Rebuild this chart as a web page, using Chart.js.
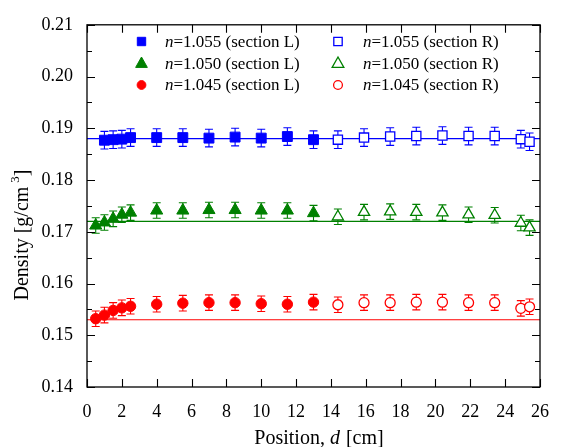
<!DOCTYPE html>
<html>
<head>
<meta charset="utf-8">
<script src="https://cdn.jsdelivr.net/npm/chart.js@4/dist/chart.umd.min.js"></script>
<style>
html,body{margin:0;padding:0;background:#fff;}
#wrap{width:563px;height:447px;position:relative;}
</style>
</head>
<body>
<div id="wrap"><canvas id="c" width="563" height="447"></canvas></div>
<script>
// ---- data ----
const xBlueL = [1.0, 1.5, 2.0, 2.5, 4, 5.5, 7, 8.5, 10, 11.5, 13];
const xL = [0.5, 1.0, 1.5, 2.0, 2.5, 4, 5.5, 7, 8.5, 10, 11.5, 13];
const xR = [14.4, 15.9, 17.4, 18.9, 20.4, 21.9, 23.4, 24.9, 25.4];

const blueL = [0.1877, 0.1878, 0.1879, 0.1882, 0.1882, 0.1882, 0.1881, 0.1883, 0.1881, 0.1884, 0.1878];
const blueR = [0.1878, 0.1882, 0.1884, 0.1885, 0.1886, 0.1885, 0.1885, 0.1879, 0.1874];
const blueErrL = [0.0017, 0.0017, 0.0017, 0.0017, 0.0017, 0.0017, 0.0017, 0.0017, 0.0017, 0.0017, 0.0017];
const blueErrR = [0.0017, 0.0017, 0.0017, 0.0017, 0.0017, 0.0017, 0.0017, 0.0017, 0.0017];

const greenL = [0.1712, 0.1718, 0.1725, 0.1733, 0.1737, 0.1741, 0.1741, 0.1742, 0.1742, 0.1741, 0.1741, 0.1736];
const greenR = [0.1729, 0.1738, 0.1739, 0.1738, 0.1737, 0.1733, 0.1732, 0.1717, 0.1708];
const greenErrL = [0.0015, 0.0015, 0.0015, 0.0015, 0.0015, 0.0015, 0.0015, 0.0015, 0.0015, 0.0015, 0.0015, 0.0015];
const greenErrR = [0.0015, 0.0015, 0.0015, 0.0015, 0.0015, 0.0015, 0.0015, 0.0015, 0.0015];

const redL = [0.1532, 0.1539, 0.1548, 0.1553, 0.1556, 0.1560, 0.1562, 0.1563, 0.1563, 0.1561, 0.1560, 0.1564];
const redR = [0.1559, 0.1563, 0.1563, 0.1564, 0.1564, 0.1563, 0.1563, 0.1552, 0.1555];
const redErrL = [0.0015, 0.0015, 0.0015, 0.0015, 0.0015, 0.0015, 0.0015, 0.0015, 0.0015, 0.0015, 0.0015, 0.0015];
const redErrR = [0.0015, 0.0015, 0.0015, 0.0015, 0.0015, 0.0015, 0.0015, 0.0015, 0.0015];

const fitLevels = [0.188, 0.172, 0.153];
const fitRange = [0, 26];

const seriesLabels = ['1.055 (section L)', '1.055 (section R)', '1.050 (section L)', '1.050 (section R)', '1.045 (section L)', '1.045 (section R)'];
const xTitle = ['Position, ', 'd', ' [cm]'];
const yTitle = ['Density [g/cm', '3', ']'];

const xMin = 0, xMax = 26, xStep = 2;
const yMin = 0.14, yMax = 0.21, yStep = 0.01, yMinorStep = 0.005;

// ---- build ----
const BLUE = '#0000ff', GREEN = '#008000', RED = '#ff0000';
const SERIF = 'Liberation Serif';
Chart.defaults.font.family = SERIF;
Chart.defaults.font.size = 17;
Chart.defaults.color = '#000';

function pts(xs, ys, es) { return xs.map((x, i) => ({x: x, y: ys[i], e: es[i]})); }

function markerDs(label, xs, ys, es, color, style, r, filled) {
  return {
    label: label, data: pts(xs, ys, es), showLine: false,
    pointStyle: style, pointRadius: r, pointHoverRadius: r,
    pointBackgroundColor: filled ? color : '#ffffff',
    pointBorderColor: color, pointBorderWidth: filled ? 1 : 1.3,
    borderColor: color, backgroundColor: filled ? color : '#ffffff',
    errorBars: true, order: 1
  };
}
function fitDs(level, color) {
  return {
    data: [{x: fitRange[0], y: level}, {x: fitRange[1], y: level}],
    showLine: true, borderColor: color, borderWidth: 1.2, pointRadius: 0,
    fill: false, order: 2
  };
}

const datasets = [
  fitDs(fitLevels[0], BLUE), fitDs(fitLevels[1], GREEN), fitDs(fitLevels[2], RED),
  markerDs(seriesLabels[0], xBlueL, blueL, blueErrL, BLUE, 'rect', 7, true),
  markerDs(seriesLabels[1], xR, blueR, blueErrR, BLUE, 'rect', 6.5, false),
  markerDs(seriesLabels[2], xL, greenL, greenErrL, GREEN, 'triangle', 7, true),
  markerDs(seriesLabels[3], xR, greenR, greenErrR, GREEN, 'triangle', 6.5, false),
  markerDs(seriesLabels[4], xL, redL, redErrL, RED, 'circle', 5.2, true),
  markerDs(seriesLabels[5], xR, redR, redErrR, RED, 'circle', 5, false)
];

const errorBarPlugin = {
  id: 'errbars',
  beforeDatasetsDraw(chart) {
    const ctx = chart.ctx, xs = chart.scales.x, ys = chart.scales.y;
    ctx.save();
    chart.data.datasets.forEach(ds => {
      if (!ds.errorBars) return;
      ctx.strokeStyle = ds.borderColor;
      ctx.lineWidth = 1.1;
      ds.data.forEach(p => {
        const px = xs.getPixelForValue(p.x);
        const y1 = ys.getPixelForValue(p.y - p.e);
        const y2 = ys.getPixelForValue(p.y + p.e);
        const cw = 4;
        ctx.beginPath();
        ctx.moveTo(px, y1); ctx.lineTo(px, y2);
        ctx.moveTo(px - cw, y1); ctx.lineTo(px + cw, y1);
        ctx.moveTo(px - cw, y2); ctx.lineTo(px + cw, y2);
        ctx.stroke();
      });
    });
    ctx.restore();
  }
};

const framePlugin = {
  id: 'frame',
  afterDatasetsDraw(chart) {
    const ctx = chart.ctx, a = chart.chartArea, xs = chart.scales.x, ys = chart.scales.y;
    ctx.save();
    ctx.strokeStyle = '#000';
    ctx.lineWidth = 1.3;
    ctx.strokeRect(a.left, a.top, a.right - a.left, a.bottom - a.top);
    ctx.lineWidth = 1.1;
    ctx.beginPath();
    for (let v = xMin; v <= xMax + 1e-9; v += xStep) {
      const px = Math.round(xs.getPixelForValue(v)) + 0.5;
      ctx.moveTo(px, a.bottom); ctx.lineTo(px, a.bottom - 8);
      ctx.moveTo(px, a.top); ctx.lineTo(px, a.top + 8);
    }
    const n = Math.round((yMax - yMin) / yMinorStep);
    for (let i = 0; i <= n; i++) {
      const v = yMin + i * yMinorStep;
      const py = Math.round(ys.getPixelForValue(v)) + 0.5;
      const len = (i % 2 === 0) ? 8 : 5;
      ctx.moveTo(a.left, py); ctx.lineTo(a.left + len, py);
      ctx.moveTo(a.right, py); ctx.lineTo(a.right - len, py);
    }
    ctx.stroke();
    ctx.restore();
  }
};

function drawMark(ctx, style, x, y, r, color, filled) {
  ctx.save();
  ctx.fillStyle = filled ? color : '#fff';
  ctx.strokeStyle = color;
  ctx.lineWidth = filled ? 1 : 1.3;
  ctx.beginPath();
  if (style === 'rect') {
    ctx.rect(x - r, y - r, 2 * r, 2 * r);
  } else if (style === 'triangle') {
    ctx.moveTo(x, y - r * 1.0);
    ctx.lineTo(x + r * 0.9, y + r * 0.6);
    ctx.lineTo(x - r * 0.9, y + r * 0.6);
    ctx.closePath();
  } else {
    ctx.arc(x, y, r, 0, Math.PI * 2);
  }
  ctx.fill();
  ctx.stroke();
  ctx.restore();
}

const textPlugin = {
  id: 'texts',
  afterDraw(chart) {
    const ctx = chart.ctx;
    ctx.save();
    // legend
    const rows = [42.5, 64.5, 86];
    const cols = [{mx: 141.5, tx: 165}, {mx: 338, tx: 363}];
    const styles = [['rect', BLUE], ['triangle', GREEN], ['circle', RED]];
    ctx.textBaseline = 'middle';
    for (let r = 0; r < 3; r++) {
      for (let c = 0; c < 2; c++) {
        const st = styles[r];
        const filled = c === 0;
        const size = st[0] === 'rect' ? 4.2 : (st[0] === 'triangle' ? 6.5 : 4.4);
        drawMark(ctx, st[0], cols[c].mx, rows[r] - 1, size, st[1], filled);
        ctx.fillStyle = '#000';
        ctx.textAlign = 'left';
        ctx.font = 'italic 17px "' + SERIF + '"';
        ctx.fillText('n', cols[c].tx, rows[r]);
        const w = ctx.measureText('n').width;
        ctx.font = '17px "' + SERIF + '"';
        ctx.fillText('=' + seriesLabels[r * 2 + c], cols[c].tx + w, rows[r]);
      }
    }
    // x title
    ctx.fillStyle = '#000';
    ctx.textBaseline = 'alphabetic';
    const R20 = '20px "' + SERIF + '"', I20 = 'italic 20px "' + SERIF + '"', R13 = '13px "' + SERIF + '"';
    ctx.font = R20;
    const w1 = ctx.measureText(xTitle[0]).width;
    ctx.font = I20;
    const w2 = ctx.measureText(xTitle[1]).width;
    ctx.font = R20;
    const w3 = ctx.measureText(xTitle[2]).width;
    const sx = 318.5 - (w1 + w2 + w3) / 2;
    const by = 444;
    ctx.textAlign = 'left';
    ctx.fillText(xTitle[0], sx, by);
    ctx.font = I20;
    ctx.fillText(xTitle[1], sx + w1, by);
    ctx.font = R20;
    ctx.fillText(xTitle[2], sx + w1 + w2 + 1, by);
    // y title
    ctx.translate(28, 235);
    ctx.rotate(-Math.PI / 2);
    ctx.font = R20;
    const a1 = ctx.measureText(yTitle[0]).width;
    ctx.font = R13;
    const a2 = ctx.measureText(yTitle[1]).width;
    ctx.font = R20;
    const a3 = ctx.measureText(yTitle[2]).width;
    const gap = 4;
    const tot = a1 + gap + a2 + a3;
    const s = -tot / 2;
    ctx.fillText(yTitle[0], s, 0);
    ctx.font = R13;
    ctx.fillText(yTitle[1], s + a1 + gap, -9);
    ctx.font = R20;
    ctx.fillText(yTitle[2], s + a1 + gap + a2, 0);
    ctx.restore();
  }
};

new Chart(document.getElementById('c'), {
  type: 'scatter',
  data: {datasets: datasets},
  options: {
    responsive: false,
    animation: false,
    devicePixelRatio: 1,
    layout: {padding: {left: 0, right: 12, top: 16, bottom: 0}},
    plugins: {legend: {display: false}, tooltip: {enabled: false}},
    scales: {
      x: {
        type: 'linear', min: xMin, max: xMax,
        ticks: {stepSize: xStep, color: '#000', font: {family: SERIF, size: 18}, padding: 14, maxRotation: 0, autoSkip: false},
        grid: {display: false, drawTicks: false},
        border: {display: false},
        afterFit: s => { s.height = 60; }
      },
      y: {
        type: 'linear', min: yMin, max: yMax,
        ticks: {stepSize: yStep, color: '#000', font: {family: SERIF, size: 18}, padding: 14,
                callback: v => v.toFixed(2)},
        grid: {display: false, drawTicks: false},
        border: {display: false},
        afterFit: s => { s.width = 87; }
      }
    }
  },
  plugins: [errorBarPlugin, framePlugin, textPlugin]
});
</script>
</body>
</html>
